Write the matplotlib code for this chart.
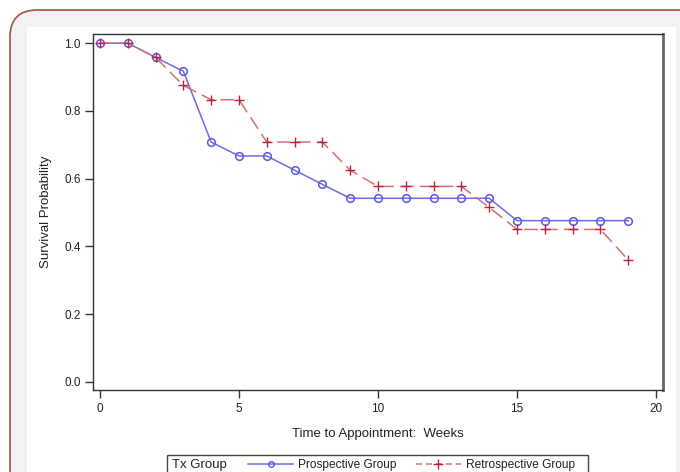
import matplotlib
matplotlib.use("Agg")
import matplotlib.pyplot as plt
from matplotlib.patches import FancyBboxPatch, Rectangle
from matplotlib.lines import Line2D

weeks = list(range(20))
prospective = [1.0, 1.0, 0.958, 0.917, 0.708, 0.667, 0.667, 0.625, 0.583, 0.542,
               0.542, 0.542, 0.542, 0.542, 0.542, 0.476, 0.476, 0.476, 0.476, 0.476]
retrospective = [1.0, 1.0, 0.958, 0.875, 0.833, 0.833, 0.708, 0.708, 0.708, 0.625,
                 0.577, 0.577, 0.577, 0.577, 0.515, 0.450, 0.450, 0.450, 0.450, 0.360]
xticks = [0, 5, 10, 15, 20]
yticks = [0.0, 0.2, 0.4, 0.6, 0.8, 1.0]

plt.rcParams['font.family'] = ['Liberation Sans', 'DejaVu Sans']

W, H = 680, 472
fig = plt.figure(figsize=(W / 100, H / 100), dpi=100, facecolor='white')

def fx(px):
    return px / W

def fy(py):
    return 1 - py / H

# outer rounded gray panel with brownish border
panel = FancyBboxPatch((fx(10), fy(500)), fx(700), 490 / H,
                       boxstyle="round,pad=0,rounding_size=0.04",
                       transform=fig.transFigure, facecolor='#f2f2f2',
                       edgecolor='#a05545', linewidth=1.2, zorder=-3,
                       mutation_aspect=W / H)
fig.patches.append(panel)
inner = Rectangle((fx(27), fy(480)), fx(676 - 27), (480 - 27) / H,
                  transform=fig.transFigure, facecolor='white',
                  edgecolor='none', zorder=-2)
fig.patches.append(inner)

ax = fig.add_axes([fx(93), fy(390), fx(663 - 93), (390 - 34) / H])
ax.set_zorder(2)
ax.set_facecolor('white')

ax.plot(weeks, prospective, color='#6b6be6', linewidth=1.1, marker='o',
        markersize=5.5, markerfacecolor='none', markeredgecolor='#5a5ae0',
        markeredgewidth=1.1, zorder=3)
ax.plot(weeks, retrospective, color='#d27278', linewidth=1.1,
        linestyle=(0, (9, 4)), marker='+', markersize=7,
        markeredgecolor='#c0203a', markeredgewidth=1.0, zorder=3)

ax.set_xlim(-0.25, 20.25)
ax.set_ylim(-0.024, 1.027)
ax.set_xticks(xticks)
ax.set_xticklabels([str(t) for t in xticks])
ax.set_yticks(yticks)
ax.set_yticklabels(['%.1f' % t for t in yticks])
ax.tick_params(direction='out', length=6, width=1, color='#333333',
               labelsize=8.5, labelcolor='#222222', pad=3)
for s in ax.spines.values():
    s.set_color('#333333')
    s.set_linewidth(1.0)
ax.spines['right'].set_color('#666666')
ax.spines['right'].set_linewidth(2)

ax.set_xlabel('Time to Appointment:  Weeks', fontsize=9.5, color='#222222', labelpad=10)
ax.set_ylabel('Survival Probability', fontsize=9.5, color='#222222', labelpad=9)

# legend box
lg = Rectangle((fx(167), fy(480)), fx(588 - 167), (480 - 455) / H,
               transform=fig.transFigure, facecolor='white',
               edgecolor='#444444', linewidth=1.0, zorder=-1)
fig.patches.append(lg)
fig.text(fx(172), fy(465), 'Tx Group', fontsize=9.5, color='#222222',
         va='center', ha='left')
handles = [
    Line2D([], [], color='#6b6be6', linewidth=1.1, marker='o', markersize=4,
           markerfacecolor='none', markeredgecolor='#5a5ae0'),
    Line2D([], [], color='#d27278', linewidth=1.1, linestyle=(0, (4, 2.5)),
           marker='+', markersize=7, markeredgecolor='#c0203a'),
]
leg = fig.legend(handles, ['Prospective Group', 'Retrospective Group'],
                 loc='center left', bbox_to_anchor=(fx(248), fy(465)),
                 ncol=2, frameon=False, fontsize=8.6, handlelength=3.8,
                 handletextpad=0.4, columnspacing=1.6, borderpad=0,
                 borderaxespad=0)
for t in leg.get_texts():
    t.set_color('#222222')

fig.savefig('out.png', dpi=100, facecolor='white')
